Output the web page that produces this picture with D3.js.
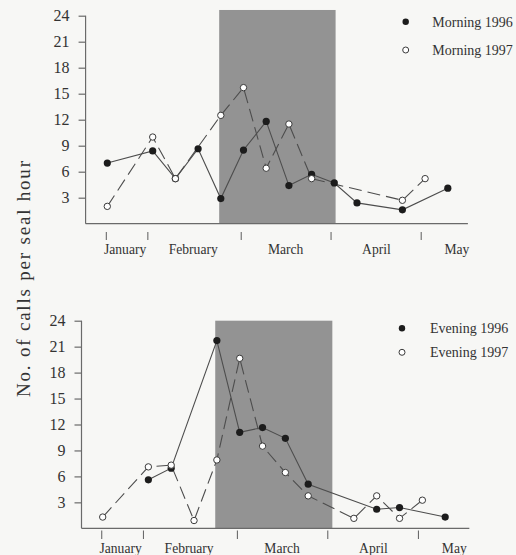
<!DOCTYPE html>
<html>
<head>
<meta charset="utf-8">
<script src="https://cdn.jsdelivr.net/npm/d3@7"></script>
<style>
  html, body { margin: 0; padding: 0; background: #f7f7f5; }
  svg { display: block; }
  text { font-family: "Liberation Serif", "DejaVu Serif", serif; fill: #333; }
</style>
</head>
<body>
<svg id="chart" width="516" height="555"></svg>
<script>
// ---- Data (day of year, weekly samples) ----
const yTicks = [3, 6, 9, 12, 15, 18, 21, 24];
const monthLabels = ["January", "February", "March", "April", "May"];
const monthLabelDays = [19.5, 40.5, 69, 97, 121.8];
const monthTickDays = [13.7, 26.5, 55.3, 83, 110.8];
const shadedDays = [48.5, 84.4];

const morning1996Days = [14, 28, 35, 42, 49, 56, 63, 70, 77, 84, 91, 105, 119];
const morning1996Vals = [7.0, 8.4, 5.2, 8.65, 2.9, 8.5, 11.8, 4.4, 5.7, 4.7, 2.4, 1.6, 4.1];
const morning1997Days = [14, 28, 35, 49, 56, 63, 70, 77, 105, 112];
const morning1997Vals = [2.0, 10.0, 5.2, 12.5, 15.7, 6.4, 11.5, 5.2, 2.7, 5.2];

const evening1996Days = [28, 35, 49, 56, 63, 70, 77, 98, 105, 119];
const evening1996Vals = [5.6, 6.95, 21.7, 11.1, 11.65, 10.4, 5.1, 2.2, 2.4, 1.3];
const evening1997Days = [14, 28, 35, 42, 49, 56, 63, 70, 77, 91, 98, 105, 112];
const evening1997Vals = [1.3, 7.1, 7.3, 0.9, 7.9, 19.65, 9.5, 6.45, 3.75, 1.15, 3.75, 1.15, 3.25];

const svg = d3.select("#chart");
const lineColor = "#4d4d4d";
const axisColor = "#6a6a6a";

const panels = [
  {
    x: d3.scaleLinear().domain([14, 119]).range([107.3, 447.8]),
    y: d3.scaleLinear().domain([0, 24]).range([223.7, 15.7]),
    axisDays: [7.3, 125.2], shadeTop: 24.66,
    s96: { days: morning1996Days, vals: morning1996Vals, name: "Morning 1996" },
    s97: { days: morning1997Days, vals: morning1997Vals, name: "Morning 1997" },
    legend: { x: 405.7, y: [21.7, 50], tx: 432.3 },
    tickY: [232, 240], labelY: 254
  },
  {
    x: d3.scaleLinear().domain([14, 119]).range([102.7, 445.2]),
    y: d3.scaleLinear().domain([0, 24]).range([528.3, 320.7]),
    axisDays: [7.5, 126.4], shadeTop: 24,
    s96: { days: evening1996Days, vals: evening1996Vals, name: "Evening 1996" },
    s97: { days: evening1997Days, vals: evening1997Vals, name: "Evening 1997" },
    legend: { x: 402, y: [328.3, 352.3], tx: 430 },
    tickY: [530.5, 539], labelY: 552.5
  }
];

panels.forEach(p => {
  const g = svg.append("g");
  const x = p.x, y = p.y;
  const x0 = x(p.axisDays[0]), x1 = x(p.axisDays[1]);
  const yb = y(0);

  // shaded period
  g.append("rect")
    .attr("x", x(shadedDays[0])).attr("y", y(p.shadeTop))
    .attr("width", x(shadedDays[1]) - x(shadedDays[0]))
    .attr("height", yb - y(p.shadeTop))
    .attr("fill", "#939393");

  // y axis
  const yAxis = d3.axisLeft(y).tickValues(yTicks).tickSize(7).tickPadding(9);
  const ya = g.append("g").attr("transform", `translate(${x0},0)`).call(yAxis)
    .attr("font-family", "Liberation Serif").attr("font-size", 16);
  ya.select(".domain").remove();
  ya.selectAll(".tick line").attr("stroke", axisColor).attr("stroke-width", 1.2);
  ya.selectAll(".tick text").attr("fill", "#333");
  g.append("line").attr("x1", x0).attr("x2", x0).attr("y1", y(24)).attr("y2", yb)
    .attr("stroke", axisColor).attr("stroke-width", 1.2);
  // x axis line
  g.append("line").attr("x1", x0).attr("x2", x1).attr("y1", yb).attr("y2", yb)
    .attr("stroke", axisColor).attr("stroke-width", 1.2);

  // month ticks (detached below axis)
  g.selectAll(".mtick").data(monthTickDays).enter().append("line")
    .attr("x1", d => x(d)).attr("x2", d => x(d))
    .attr("y1", p.tickY[0]).attr("y2", p.tickY[1])
    .attr("stroke", axisColor).attr("stroke-width", 1.1);
  g.selectAll(".mlab").data(monthLabels).enter().append("text")
    .attr("x", (d, i) => x(monthLabelDays[i])).attr("y", p.labelY)
    .attr("text-anchor", "middle").style("font-size", "13.6px").text(d => d);

  const line = d3.line().x(d => x(d[0])).y(d => y(d[1]));
  const pts96 = p.s96.days.map((d, i) => [d, p.s96.vals[i]]);
  const pts97 = p.s97.days.map((d, i) => [d, p.s97.vals[i]]);

  g.append("path").datum(pts96).attr("d", line).attr("fill", "none")
    .attr("stroke", lineColor).attr("stroke-width", 1.1);
  g.append("path").datum(pts97).attr("d", line).attr("fill", "none")
    .attr("stroke", lineColor).attr("stroke-width", 1.1).attr("stroke-dasharray", "13,6");

  g.selectAll(".m96").data(pts96).enter().append("circle")
    .attr("cx", d => x(d[0])).attr("cy", d => y(d[1])).attr("r", 3.6)
    .attr("fill", "#1c1c1c");
  g.selectAll(".m97").data(pts97).enter().append("circle")
    .attr("cx", d => x(d[0])).attr("cy", d => y(d[1])).attr("r", 3.2)
    .attr("fill", "#ffffff").attr("stroke", "#3a3a3a").attr("stroke-width", 1);

  // legend
  g.append("circle").attr("cx", p.legend.x).attr("cy", p.legend.y[0]).attr("r", 3.2).attr("fill", "#1c1c1c");
  g.append("circle").attr("cx", p.legend.x).attr("cy", p.legend.y[1]).attr("r", 3)
    .attr("fill", "#fff").attr("stroke", "#3a3a3a").attr("stroke-width", 1);
  g.append("text").attr("x", p.legend.tx).attr("y", p.legend.y[0] + 5).style("font-size", "14px").text(p.s96.name);
  g.append("text").attr("x", p.legend.tx).attr("y", p.legend.y[1] + 5).style("font-size", "14px").text(p.s97.name);
});

// y-axis title
svg.append("text")
  .attr("transform", "translate(30,279) rotate(-90)")
  .attr("text-anchor", "middle")
  .style("font-size", "19px")
  .attr("textLength", 236).attr("lengthAdjust", "spacing")
  .text("No. of calls per seal hour");
</script>
</body>
</html>
